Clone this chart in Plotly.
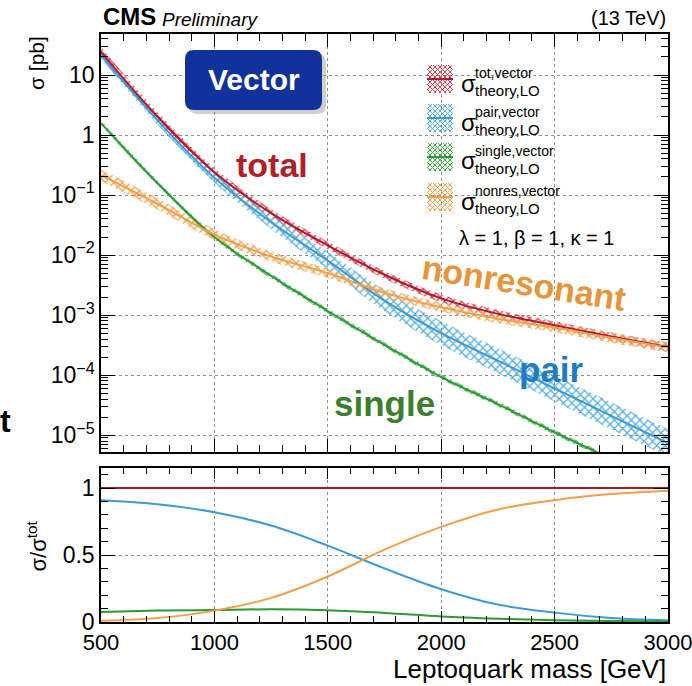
import plotly.graph_objects as go

# ---------------------------------------------------------------- data
mass_gev = [500, 750, 1000, 1250, 1500, 1750, 2000, 2250, 2500, 2750, 3000]

# LO cross sections [pb]
xsec_total_pb = [24.0, 2.0, 0.24, 0.050, 0.0145, 4.7e-3, 1.9e-3, 1.05e-3, 6.8e-4, 4.4e-4, 2.95e-4]
xsec_pair_pb = [21.4, 1.74, 0.195, 0.0355, 8.1e-3, 1.74e-3, 5.0e-4, 1.74e-4, 6.0e-5, 2.1e-5, 7.4e-6]
xsec_single_pb = [1.58, 0.158, 0.020, 4.5e-3, 1.17e-3, 3.2e-4, 9.3e-5, 3.3e-5, 1.12e-5, 4.0e-6, 1.4e-6]
xsec_nonres_pb = [0.214, 0.071, 0.022, 9.5e-3, 5.0e-3, 2.35e-3, 1.35e-3, 8.7e-4, 6.2e-4, 4.2e-4, 2.9e-4]

# multiplicative theory uncertainty (band = sigma*f ... sigma/f)
unc_total = [1.22, 1.20, 1.18, 1.17, 1.16, 1.16, 1.16, 1.16, 1.16, 1.17, 1.18]
unc_pair = [1.14, 1.17, 1.22, 1.30, 1.40, 1.50, 1.58, 1.62, 1.65, 1.68, 1.70]
unc_single = [1.10, 1.10, 1.10, 1.10, 1.10, 1.10, 1.10, 1.10, 1.10, 1.10, 1.10]
unc_nonres = [1.26, 1.25, 1.23, 1.21, 1.20, 1.19, 1.19, 1.19, 1.20, 1.21, 1.22]

# fractions of the total cross section
frac_total = [1, 1, 1, 1, 1, 1, 1, 1, 1, 1, 1]
frac_pair = [0.91, 0.88, 0.82, 0.72, 0.57, 0.40, 0.245, 0.13, 0.07, 0.03, 0.012]
frac_nonres = [0.01, 0.03, 0.085, 0.18, 0.34, 0.54, 0.71, 0.84, 0.91, 0.955, 0.98]
frac_single = [0.075, 0.085, 0.09, 0.095, 0.088, 0.068, 0.042, 0.025, 0.013, 0.007, 0.004]

decade_ticks = [1e-5, 1e-4, 1e-3, 1e-2, 1e-1, 1, 10]
decade_labels = ["10<sup>\u22125</sup>", "10<sup>\u22124</sup>", "10<sup>\u22123</sup>",
                 "10<sup>\u22122</sup>", "10<sup>\u22121</sup>", "1", "10"]
mass_ticks = [500, 1000, 1500, 2000, 2500, 3000]
ratio_ticks = [0, 0.5, 1]
ratio_labels = ["0", "0.5", "1"]

# ---------------------------------------------------------------- style
FONT = "Liberation Sans, Arial, Helvetica, sans-serif"
W, H = 692, 686
L, R, T, B = 101, 668, 34, 622          # plot frame in page pixels
TOP_LOW = 452                            # bottom edge of the upper pad
BOT_HIGH = 468                           # top edge of the lower pad

series = [
    # name, sigma, unc, frac, line colour, hatch colour
    ("tot", xsec_total_pb, unc_total, frac_total, "#b3172b", "#d8404c"),
    ("pair", xsec_pair_pb, unc_pair, frac_pair, "#3d9bd4", "#5ab0e4"),
    ("single", xsec_single_pb, unc_single, frac_single, "#2e9a36", "#3fae45"),
    ("nonres", xsec_nonres_pb, unc_nonres, frac_nonres, "#f0a04a", "#f4a656"),
]


def px(x):
    return (x - L) / (R - L)


def py(y):
    return (B - y) / (B - T)


fig = go.Figure()

# hatched uncertainty bands
for name, sig, unc, frac, lc, hc in series:
    lo = [s / f for s, f in zip(sig, unc)]
    hi = [s * f for s, f in zip(sig, unc)]
    fig.add_trace(go.Scatter(x=mass_gev, y=lo, mode="lines", line=dict(width=0, shape="spline"),
                             xaxis="x", yaxis="y", hoverinfo="skip"))
    fig.add_trace(go.Scatter(x=mass_gev, y=hi, mode="lines", line=dict(width=0, shape="spline"),
                             fill="tonexty", fillcolor="rgba(0,0,0,0)",
                             fillpattern=dict(shape="x", size=6, solidity=0.4, fgcolor=hc,
                                              bgcolor="rgba(255,255,255,0)", fillmode="replace"),
                             xaxis="x", yaxis="y", hoverinfo="skip"))

# central values
for name, sig, unc, frac, lc, hc in series:
    fig.add_trace(go.Scatter(x=mass_gev, y=sig, mode="lines",
                             line=dict(color=lc, width=2, shape="spline"),
                             xaxis="x", yaxis="y", name=name))

# ratio pad
for name, sig, unc, frac, lc, hc in series:
    col = "#a51c1c" if name == "tot" else lc
    fig.add_trace(go.Scatter(x=mass_gev, y=frac, mode="lines",
                             line=dict(color=col, width=2, shape="spline"),
                             xaxis="x2", yaxis="y2", name=name + " ratio"))

axis_common = dict(
    showline=True, linecolor="black", linewidth=1.5, mirror="allticks",
    ticks="inside", tickcolor="black", tickwidth=1.2,
    showgrid=True, gridcolor="#8c8c8c", griddash="dot", gridwidth=1,
    zeroline=False, automargin=False,
    tickfont=dict(family=FONT, size=23, color="black"),
)

fig.update_layout(
    width=W, height=H,
    margin=dict(l=L, r=W - R, t=T, b=H - B, pad=0),
    paper_bgcolor="white", plot_bgcolor="white",
    showlegend=False,
    font=dict(family=FONT, color="black"),
    xaxis=dict(axis_common, domain=[0, 1], anchor="y", range=[500, 3000],
               tickvals=mass_ticks, showticklabels=False, ticklen=13,
               minor=dict(ticks="inside", ticklen=7, dtick=100, tick0=500,
                          tickcolor="black", showgrid=False)),
    yaxis=dict(axis_common, domain=[(B - TOP_LOW) / (B - T), 1], anchor="x", type="log",
               range=[-5.28, 1.683], tickvals=decade_ticks, ticktext=decade_labels, ticklen=14,
               minor=dict(ticks="inside", ticklen=7, dtick="D1", tickcolor="black", showgrid=False)),
    xaxis2=dict(axis_common, domain=[0, 1], anchor="y2", range=[500, 3000], matches="x",
                tickvals=mass_ticks, ticklen=11, ticklabeloverflow="allow",
                tickfont=dict(family=FONT, size=22, color="black"),
                minor=dict(ticks="inside", ticklen=6, dtick=100, tick0=500,
                           tickcolor="black", showgrid=False)),
    yaxis2=dict(axis_common, domain=[0, (B - BOT_HIGH) / (B - T)], anchor="x2",
                range=[0, 1.15], tickvals=ratio_ticks, ticktext=ratio_labels, ticklen=14,
                minor=dict(ticks="inside", ticklen=7, dtick=0.1, tick0=0,
                           tickcolor="black", showgrid=False)),
)

ann = []


def text(x, y, s, size, color="black", xa="left", ya="middle", angle=0):
    ann.append(dict(x=px(x), y=py(y), xref="paper", yref="paper", text=s, showarrow=False,
                    xanchor=xa, yanchor=ya, textangle=angle,
                    font=dict(family=FONT, size=size, color=color)))


# header
text(101, 17, "<b>CMS</b>", 24)
text(160, 19, "<i>Preliminary</i>", 19)
text(R, 18, "(13 TeV)", 20, xa="right")

# axis titles
text(36, 34, "\u03c3 [pb]", 21, ya="top", xa="center", angle=-90)
text(36, 574, "\u03c3/\u03c3<sup>tot</sup>", 22, ya="bottom", xa="center", angle=-90)
text(R, 669, "Leptoquark mass [GeV]", 26, xa="right")

# process labels inside the plot
text(272, 165, "<b>total</b>", 34, color="#b0202a", xa="center")
text(524, 283, "<b>nonresonant</b>", 34, color="#e8943a", xa="center", angle=9)
text(551, 369, "<b>pair</b>", 35, color="#1f7cc4", xa="center")
text(384, 403, "<b>single</b>", 35, color="#3d7f2e", xa="center")

# coupling text
text(457, 238, "\u03bb = 1, \u03b2 = 1, \u03ba = 1", 20)

# stray slide text at the page edge
text(-2, 421, "<b>t</b>", 32, xa="left")

shapes = []


# "Vector" badge: shadow + rounded box
def rounded(x0, y0, x1, y1, r):
    pts = [
        ("M", [(x0 + r, y0)]), ("L", [(x1 - r, y0)]), ("Q", [(x1, y0), (x1, y0 + r)]),
        ("L", [(x1, y1 - r)]), ("Q", [(x1, y1), (x1 - r, y1)]), ("L", [(x0 + r, y1)]),
        ("Q", [(x0, y1), (x0, y1 - r)]), ("L", [(x0, y0 + r)]), ("Q", [(x0, y0), (x0 + r, y0)]),
    ]
    out = ""
    for cmd, ps in pts:
        out += cmd + " " + " ".join(f"{px(a):.5f},{py(b):.5f}" for a, b in ps) + " "
    return out + "Z"


shapes.append(dict(type="path", xref="paper", yref="paper", path=rounded(189, 54, 326, 114, 9),
                   fillcolor="rgba(120,120,120,0.35)", line=dict(width=0), layer="above"))
shapes.append(dict(type="path", xref="paper", yref="paper", path=rounded(185, 50, 322, 110, 9),
                   fillcolor="#10329a", line=dict(width=0), layer="above"))
text(253.5, 80, "<b>Vector</b>", 30, color="white", xa="center")

# legend: hatched swatch + central line + stacked sub/superscripts
row_y = [79, 118, 157, 197]
sup_txt = ["tot,vector", "pair,vector", "single,vector", "nonres,vector"]
sx0, sx1 = 427, 453
for (name, sig, unc, frac, lc, hc), cy, sup in zip(series, row_y, sup_txt):
    y0, y1 = cy - 14, cy + 14
    segs = []
    step = 5
    c = y0 - sx1
    while c <= y1 - sx0:
        xa_, xb_ = max(sx0, y0 - c), min(sx1, y1 - c)
        if xb_ > xa_:
            segs.append(f"M {px(xa_):.5f},{py(xa_ + c):.5f} L {px(xb_):.5f},{py(xb_ + c):.5f}")
        c += step
    c = sx0 + y0
    while c <= sx1 + y1:
        xa_, xb_ = max(sx0, c - y1), min(sx1, c - y0)
        if xb_ > xa_:
            segs.append(f"M {px(xa_):.5f},{py(c - xa_):.5f} L {px(xb_):.5f},{py(c - xb_):.5f}")
        c += step
    shapes.append(dict(type="path", xref="paper", yref="paper", path=" ".join(segs),
                       line=dict(color=hc, width=1), layer="above"))
    shapes.append(dict(type="line", xref="paper", yref="paper", x0=px(sx0), x1=px(sx1),
                       y0=py(cy), y1=py(cy), line=dict(color=lc, width=2), layer="above"))
    text(459, cy + 4, "\u03c3", 24)
    text(473, cy - 6, sup, 14)
    text(473, cy + 11, "theory,LO", 15)

fig.update_layout(annotations=ann, shapes=shapes)

fig.write_html("out.html")
